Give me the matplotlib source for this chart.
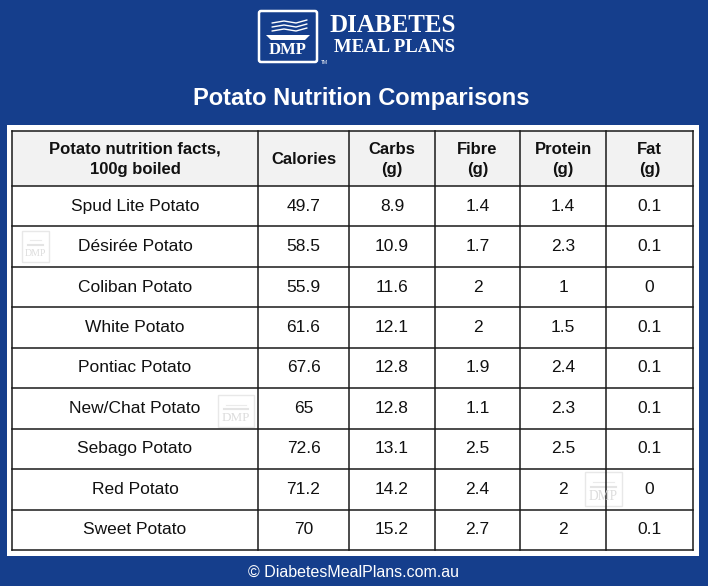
"""
Potato Nutrition Comparisons — table graphic (DiabetesMealPlans style).
"""

import matplotlib
matplotlib.use("Agg")
import matplotlib.pyplot as plt
from matplotlib.patches import Rectangle, FancyBboxPatch, Polygon

# ── data ────────────────────────────────────────────────────────────────
HEADERS  = ["Potato nutrition facts,\n100g boiled", "Calories", "Carbs\n(g)",
            "Fibre\n(g)", "Protein\n(g)", "Fat\n(g)"]
POTATOES = ["Spud Lite Potato", "Désirée Potato", "Coliban Potato", "White Potato",
            "Pontiac Potato", "New/Chat Potato", "Sebago Potato", "Red Potato",
            "Sweet Potato"]
CALORIES = ["49.7", "58.5", "55.9", "61.6", "67.6", "65", "72.6", "71.2", "70"]
CARBS    = ["8.9", "10.9", "11.6", "12.1", "12.8", "12.8", "13.1", "14.2", "15.2"]
FIBRE    = ["1.4", "1.7", "2", "2", "1.9", "1.1", "2.5", "2.4", "2.7"]
PROTEIN  = ["1.4", "2.3", "1", "1.5", "2.4", "2.3", "2.5", "2", "2"]
FAT      = ["0.1", "0.1", "0", "0.1", "0.1", "0.1", "0.1", "0", "0.1"]

TITLE  = "Potato Nutrition Comparisons"
FOOTER = "© DiabetesMealPlans.com.au"

# ── style ───────────────────────────────────────────────────────────────
BLUE = "#153E8C"
SANS = ["Liberation Sans", "DejaVu Sans"]
SERIF = ["Liberation Serif", "DejaVu Serif"]
W, H = 708, 586

fig = plt.figure(figsize=(W / 100, H / 100), dpi=100, facecolor=BLUE)
ax = fig.add_axes([0, 0, 1, 1])
ax.set_xlim(0, W)
ax.set_ylim(H, 0)
ax.axis("off")
ax.set_facecolor(BLUE)

# ── logo ────────────────────────────────────────────────────────────────
ax.add_patch(FancyBboxPatch((259, 11), 58, 51, boxstyle="round,pad=0,rounding_size=2",
                            fill=False, ec="white", lw=1.8))
ax.add_patch(Polygon([[266, 35], [310, 35], [305, 40], [271, 40]], closed=True,
                     fc="white", ec="none"))
for dy in (0, 4, 8):
    ax.plot([272, 284, 296, 307], [31 - dy, 29 - dy, 31 - dy, 28 - dy],
            color="white", lw=1.0, solid_capstyle="round")
ax.text(288, 50, "DMP", color="white", fontsize=12, fontweight="bold",
        family=SERIF, ha="center", va="center")
ax.text(321, 62, "TM", color="white", fontsize=3.5, family=SANS, ha="left", va="center")
ax.text(393, 26, "DIABETES", color="white", fontsize=18, fontweight="bold",
        family=SERIF, ha="center", va="center")
ax.text(394, 48, "MEAL PLANS", color="white", fontsize=13.5, fontweight="bold",
        family=SERIF, ha="center", va="center")

# ── title / footer ──────────────────────────────────────────────────────
ax.text(W / 2 + 7, 99, TITLE, color="white", fontsize=17, fontweight="bold",
        family=SANS, ha="center", va="center")
ax.text(W / 2, 572, FOOTER, color="white", fontsize=11.5, family=SANS,
        ha="center", va="center")

# ── white panel + table ─────────────────────────────────────────────────
ax.add_patch(Rectangle((7, 125), 692, 431, fc="white", ec="none"))

col_edges = [12, 258, 349, 435, 520, 606, 693]
top, head_bot, bottom = 131, 186, 550
n_rows = len(POTATOES)
row_h = (bottom - head_bot) / n_rows
row_edges = [top, head_bot] + [head_bot + row_h * (i + 1) for i in range(n_rows)]

ax.add_patch(Rectangle((col_edges[0], top), col_edges[-1] - col_edges[0],
                       head_bot - top, fc="#F2F2F2", ec="none"))

# watermarks
for (wx, wy, ww, wh) in [(22, 231, 27, 31), (218, 395, 36, 32), (585, 472, 37, 34)]:
    ax.add_patch(Rectangle((wx, wy), ww, wh, fill=False, ec="#E8E8E8", lw=1))
    ax.plot([wx + 6, wx + ww - 6], [wy + wh * 0.45] * 2, color="#E4E4E4", lw=1.5)
    ax.plot([wx + 8, wx + ww - 8], [wy + wh * 0.3] * 2, color="#EBEBEB", lw=0.8)
    ax.text(wx + ww / 2, wy + wh * 0.72, "DMP", color="#DDDDDD", family=SERIF,
            fontsize=ww / 3.8, ha="center", va="center")

for x in col_edges:
    ax.plot([x, x], [top, bottom], color="#1a1a1a", lw=1.1)
for y in row_edges:
    ax.plot([col_edges[0], col_edges[-1]], [y, y], color="#1a1a1a", lw=1.1)

# header text
for j, label in enumerate(HEADERS):
    cx = (col_edges[j] + col_edges[j + 1]) / 2
    ax.text(cx, (top + head_bot) / 2 + 1, label, fontsize=12, fontweight="bold",
            family=SANS, ha="center", va="center", linespacing=1.45, color="#111111")

# body text
columns = [POTATOES, CALORIES, CARBS, FIBRE, PROTEIN, FAT]
for i in range(n_rows):
    cy = head_bot + row_h * (i + 0.5)
    for j, col in enumerate(columns):
        cx = (col_edges[j] + col_edges[j + 1]) / 2
        ax.text(cx, cy, col[i], fontsize=12.5, family=SANS, ha="center",
                va="center", color="#111111")

fig.savefig("out.png", dpi=100, facecolor=BLUE)
